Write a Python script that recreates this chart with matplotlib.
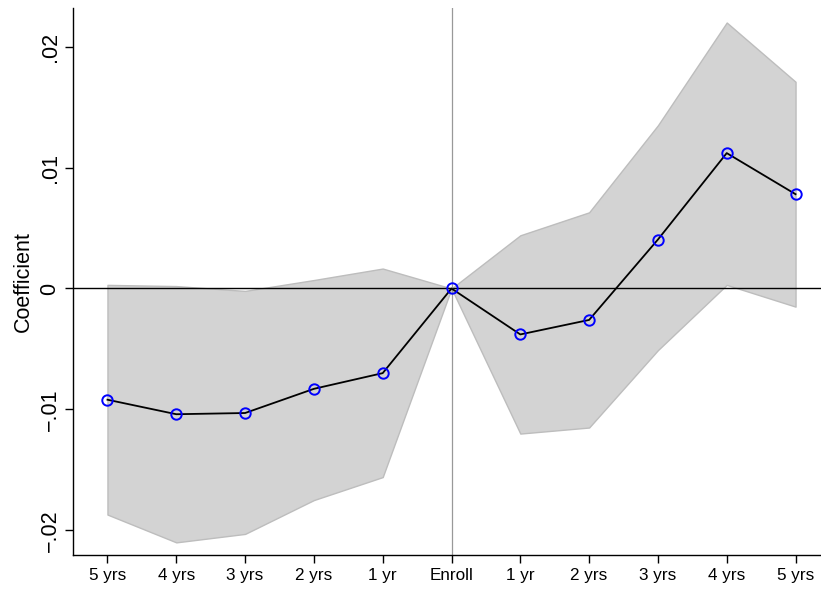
import matplotlib.pyplot as plt
import numpy as np

plt.rcParams['font.family'] = ['Liberation Sans', 'DejaVu Sans']

# event-time labels and estimates
labels = ['5 yrs', '4 yrs', '3 yrs', '2 yrs', '1 yr', 'Enroll',
          '1 yr', '2 yrs', '3 yrs', '4 yrs', '5 yrs']
coef = [-0.0092, -0.0104, -0.0103, -0.0083, -0.0070, 0.0,
        -0.0038, -0.0026, 0.00405, 0.0112, 0.0078]
ci_hi = [0.0003, 0.0002, -0.0002, 0.0007, 0.00165, 0.0,
         0.0044, 0.0063, 0.0135, 0.0220, 0.0171]
ci_lo = [-0.0187, -0.0210, -0.0203, -0.0175, -0.0156, 0.0,
         -0.0120, -0.0115, -0.0051, 0.0003, -0.0015]

x = np.arange(len(labels))

fig = plt.figure(figsize=(8.21, 5.90), dpi=100)
ax = fig.add_axes([0.089, 0.059, 0.911, 0.927])

ax.fill_between(x, ci_lo, ci_hi, facecolor='#d3d3d3', edgecolor='#bdbdbd',
                linewidth=1.0, zorder=1)
ax.axhline(0, color='black', linewidth=1.0, zorder=2)
ax.axvline(5, color='#999999', linewidth=0.9, zorder=2)
ax.plot(x, coef, color='black', linewidth=1.3, zorder=3)
ax.plot(x, coef, linestyle='none', marker='o', markersize=7.5,
        markerfacecolor='none', markeredgecolor='#0000ff',
        markeredgewidth=1.4, zorder=4)

ax.set_xlim(-0.5, 10.37)
ax.set_ylim(-0.02206, 0.02318)
ax.set_xticks(x)
ax.set_xticklabels(labels)
ax.set_yticks([-0.02, -0.01, 0, 0.01, 0.02])
ax.set_yticklabels(['\u2212.02', '\u2212.01', '0', '.01', '.02'],
                   rotation=90, va='center')
ax.set_ylabel('Coefficient', fontsize=15.5, labelpad=4)

ax.tick_params(axis='x', length=6, width=1, labelsize=12.3, pad=3)
ax.tick_params(axis='y', length=6, width=1, labelsize=15.5, pad=3)
for s in ['top', 'right']:
    ax.spines[s].set_visible(False)
for s in ['left', 'bottom']:
    ax.spines[s].set_linewidth(1.0)

fig.savefig('out.png', dpi=100)
